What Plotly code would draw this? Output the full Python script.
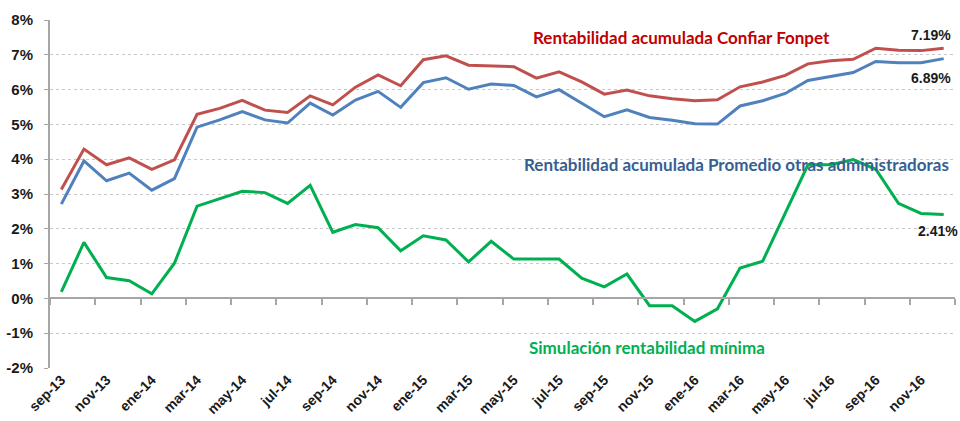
import plotly.graph_objects as go

months = ["sep-13","oct-13","nov-13","dic-13","ene-14","feb-14","mar-14","abr-14","may-14","jun-14",
          "jul-14","ago-14","sep-14","oct-14","nov-14","dic-14","ene-15","feb-15","mar-15","abr-15",
          "may-15","jun-15","jul-15","ago-15","sep-15","oct-15","nov-15","dic-15","ene-16","feb-16",
          "mar-16","abr-16","may-16","jun-16","jul-16","ago-16","sep-16","oct-16","nov-16","dic-16"]

confiar = [3.13,4.29,3.84,4.04,3.71,3.98,5.29,5.46,5.69,5.41,
           5.34,5.82,5.56,6.07,6.42,6.11,6.86,6.97,6.70,6.69,
           6.66,6.33,6.51,6.22,5.87,5.99,5.82,5.74,5.68,5.71,
           6.08,6.22,6.41,6.74,6.83,6.87,7.19,7.13,7.12,7.19]

promedio = [2.71,3.95,3.38,3.60,3.11,3.44,4.92,5.13,5.37,5.13,
            5.04,5.61,5.27,5.70,5.95,5.49,6.20,6.34,6.01,6.16,
            6.12,5.79,6.00,5.61,5.22,5.42,5.20,5.12,5.02,5.01,
            5.53,5.68,5.89,6.26,6.37,6.49,6.81,6.77,6.77,6.89]

simulacion = [0.19,1.61,0.60,0.51,0.13,1.01,2.65,2.86,3.08,3.04,
              2.73,3.25,1.90,2.12,2.03,1.37,1.80,1.68,1.05,1.64,
              1.13,1.13,1.13,0.58,0.33,0.70,-0.21,-0.21,-0.66,-0.30,
              0.87,1.07,2.45,3.84,3.84,3.99,3.71,2.73,2.44,2.41]

y_ticks = [-2,-1,0,1,2,3,4,5,6,7,8]
y_text = [f"{v}%" for v in y_ticks]

idx = list(range(len(months)))
label_idx = idx[::2]
label_txt = months[::2]
boundaries = [i - 0.5 for i in range(0, len(months) + 1, 2)]

fig = go.Figure()
fig.add_trace(go.Scatter(x=idx, y=confiar, mode="lines", line=dict(color="#C0504D", width=3),
                         name="Rentabilidad acumulada Confiar Fonpet", hoverinfo="y"))
fig.add_trace(go.Scatter(x=idx, y=promedio, mode="lines", line=dict(color="#4F81BD", width=3),
                         name="Rentabilidad acumulada Promedio otras administradoras", hoverinfo="y"))
fig.add_trace(go.Scatter(x=idx, y=simulacion, mode="lines", line=dict(color="#00B050", width=3),
                         name="Simulación rentabilidad mínima", hoverinfo="y"))
# invisible trace for the zero-line tick axis
fig.add_trace(go.Scatter(x=[idx[0], idx[-1]], y=[0, 0], xaxis="x2", mode="lines",
                         line=dict(width=0), showlegend=False, hoverinfo="skip"))

tickfont = dict(family="Liberation Sans, Arial", size=15, color="#1a1a1a", weight="bold")

fig.update_layout(
    width=960, height=421,
    margin=dict(l=50, r=5, t=20, b=53),
    paper_bgcolor="white", plot_bgcolor="white",
    showlegend=False,
    xaxis=dict(range=[-0.5, len(months) - 0.5], tickmode="array", tickvals=label_idx, ticktext=label_txt,
               tickangle=-45, showgrid=False, zeroline=False, showline=False, ticks="",
               automargin=False,
               tickfont=dict(family="Liberation Sans, Arial", size=14, color="#1a1a1a", weight="bold")),
    xaxis2=dict(overlaying="x", anchor="free", position=0.2, range=[-0.5, len(months) - 0.5],
                tickmode="array", tickvals=boundaries, showticklabels=False, ticks="outside",
                ticklen=6, tickwidth=1.5, tickcolor="#A6A6A6", showline=True, linecolor="#A6A6A6",
                linewidth=2, showgrid=False, zeroline=False),
    yaxis=dict(range=[-2, 8], tickmode="array", tickvals=y_ticks, ticktext=y_text,
               showgrid=True, gridcolor="#C8C8C8", griddash="dot", gridwidth=1,
               zeroline=False, showline=True, linecolor="#A6A6A6", linewidth=2,
               ticks="outside", ticklen=4, tickcolor="#A6A6A6", ticklabelstandoff=8,
               automargin=False, tickfont=tickfont),
)

lab_font = "Lato, Open Sans, sans-serif"
fig.add_annotation(xref="paper", yref="paper", x=0.698, y=0.951, xanchor="center", yanchor="middle",
                   showarrow=False, text="Rentabilidad acumulada Confiar Fonpet",
                   font=dict(family=lab_font, size=17, color="#C00000", weight="bold"))
fig.add_annotation(xref="paper", yref="paper", x=0.7586, y=0.586, xanchor="center", yanchor="middle",
                   showarrow=False, text="Rentabilidad acumulada Promedio otras administradoras",
                   font=dict(family=lab_font, size=17, color="#376092", weight="bold"))
fig.add_annotation(xref="paper", yref="paper", x=0.660, y=0.060, xanchor="center", yanchor="middle",
                   showarrow=False, text="Simulación rentabilidad mínima",
                   font=dict(family=lab_font, size=17, color="#00B050", weight="bold"))

num_font = dict(family="Liberation Sans, Arial", size=14, color="#1a1a1a", weight="bold")
fig.add_annotation(xref="paper", yref="paper", x=0.998, y=0.957, xanchor="right", yanchor="middle",
                   showarrow=False, text=f"{confiar[-1]:.2f}%", font=num_font)
fig.add_annotation(xref="paper", yref="paper", x=0.998, y=0.833, xanchor="right", yanchor="middle",
                   showarrow=False, text=f"{promedio[-1]:.2f}%", font=num_font)
fig.add_annotation(xref="paper", yref="paper", x=1.005, y=0.394, xanchor="right", yanchor="middle",
                   showarrow=False, text=f"{simulacion[-1]:.2f}%", font=num_font)

fig.write_html("out.html", config={"displayModeBar": False},
               post_script="document.body.style.margin='0';document.body.style.overflow='hidden';")
